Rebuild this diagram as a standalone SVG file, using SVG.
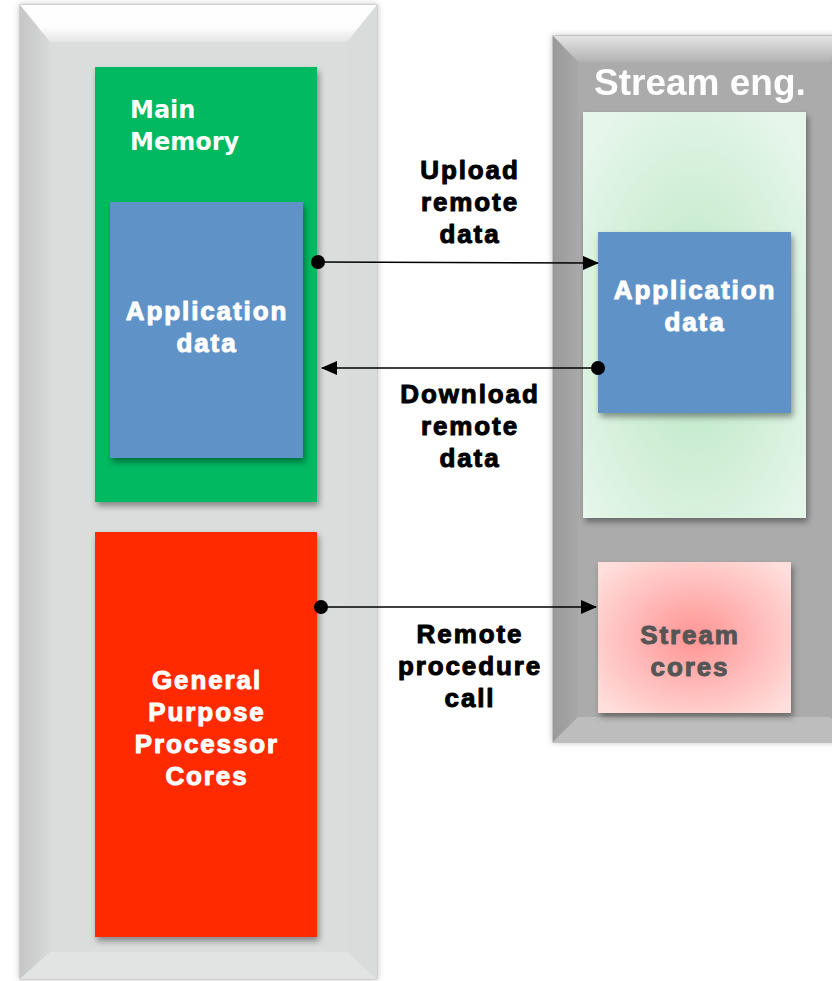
<svg xmlns="http://www.w3.org/2000/svg" width="832" height="981" viewBox="0 0 832 981">
  <style>
    .heavy { font-family: "Liberation Sans", Arial, sans-serif; font-weight: bold; font-size: 26px; letter-spacing: 1.9px; text-anchor: middle; stroke-width: 1px; stroke-linejoin: round; }
    .white { fill: #ffffff; stroke: #ffffff; }
    .black { fill: #000000; stroke: #000000; }
    .grey  { fill: #555555; stroke: #555555; }
    .verd  { font-family: "DejaVu Sans", Verdana, sans-serif; font-weight: bold; font-size: 24px; fill: #ffffff; }
    .title { font-family: "Liberation Sans", Arial, sans-serif; font-weight: bold; font-size: 37px; fill: #ffffff; }
    .wire  { stroke: #000000; stroke-width: 1.6; fill: none; }
    .dot   { fill: #000000; }
  </style>
  <defs>
    <filter id="shadow" x="-10%" y="-10%" width="125%" height="125%">
      <feDropShadow dx="2" dy="4" stdDeviation="3" flood-color="#000000" flood-opacity="0.4"/>
    </filter>
    <filter id="glow" x="-5%" y="-5%" width="110%" height="110%">
      <feDropShadow dx="0" dy="0" stdDeviation="3" flood-color="#000000" flood-opacity="0.25"/>
    </filter>
    <linearGradient id="topL" x1="0" y1="0" x2="0" y2="1">
      <stop offset="0" stop-color="#ffffff"/>
      <stop offset="0.6" stop-color="#fdfdfd"/>
      <stop offset="1" stop-color="#e6e6e6"/>
    </linearGradient>
    <linearGradient id="leftL" x1="0" y1="0" x2="1" y2="0">
      <stop offset="0" stop-color="#c6c6c6"/>
      <stop offset="1" stop-color="#d8d9d9"/>
    </linearGradient>
    <linearGradient id="topR" x1="0" y1="0" x2="0" y2="1">
      <stop offset="0" stop-color="#e4e4e4"/>
      <stop offset="1" stop-color="#b2b2b2"/>
    </linearGradient>
    <linearGradient id="leftR" x1="0" y1="0" x2="1" y2="0">
      <stop offset="0" stop-color="#9a9a9a"/>
      <stop offset="1" stop-color="#a8a8a8"/>
    </linearGradient>
    <radialGradient id="greenGlow" cx="0.5" cy="0.55" r="0.65">
      <stop offset="0" stop-color="#b8e6c3"/>
      <stop offset="1" stop-color="#e6f6ea"/>
    </radialGradient>
    <radialGradient id="redGlow" cx="0.5" cy="0.5" r="0.65">
      <stop offset="0" stop-color="#ff9494"/>
      <stop offset="1" stop-color="#ffdfdc"/>
    </radialGradient>
    <marker id="head" markerWidth="16" markerHeight="14" refX="15" refY="7" orient="auto" markerUnits="userSpaceOnUse">
      <path d="M0,0 L16,7 L0,14 Z" fill="#000000"/>
    </marker>
  </defs>

  <rect width="832" height="981" fill="#ffffff"/>

  <!-- Host panel (bevelled) -->
  <g id="host-panel" filter="url(#glow)">
    <rect x="20" y="5" width="357" height="974" fill="#dcdddd" stroke="#b4b4b4" stroke-width="1"/>
    <polygon points="20,5 377,5 347,42 50,42" fill="url(#topL)"/>
    <polygon points="20,5 50,42 50,952 20,979" fill="url(#leftL)"/>
    <polygon points="377,5 347,42 347,952 377,979" fill="#dadbdb"/>
    <polygon points="20,979 50,952 347,952 377,979" fill="#e2e3e3"/>
    <rect x="50" y="42" width="297" height="910" fill="#dbdcdc"/>
  </g>

  <!-- Stream engine panel (bevelled) -->
  <g id="stream-panel" filter="url(#glow)">
    <rect x="553" y="36" width="300" height="706" fill="#aaaaaa" stroke="#9a9a9a" stroke-width="1"/>
    <polygon points="553,36 853,36 830,62 578,62" fill="url(#topR)"/>
    <polygon points="553,36 578,62 578,717 553,742" fill="url(#leftR)"/>
    <polygon points="553,742 578,717 830,717 853,742" fill="#bdbdbd"/>
    <rect x="578" y="62" width="260" height="655" fill="#ababab"/>
    <text class="title" x="594" y="95">Stream eng.</text>
  </g>

  <!-- Main memory -->
  <g id="main-memory">
    <rect x="95" y="67" width="222" height="435" fill="#00b960" filter="url(#shadow)"/>
    <text class="verd" x="130" y="118">Main</text>
    <text class="verd" x="130" y="150">Memory</text>
  </g>

  <g id="host-app-data">
    <rect x="110" y="202" width="193" height="256" fill="#5f93c8" filter="url(#shadow)"/>
    <text class="heavy white" x="207" y="320">Application</text>
    <text class="heavy white" x="207" y="352">data</text>
  </g>

  <!-- General purpose cores -->
  <g id="gp-cores">
    <rect x="95" y="532" width="222" height="405" fill="#ff2a00" filter="url(#shadow)"/>
    <text class="heavy white" x="207" y="689">General</text>
    <text class="heavy white" x="207" y="721">Purpose</text>
    <text class="heavy white" x="207" y="753">Processor</text>
    <text class="heavy white" x="207" y="785">Cores</text>
  </g>

  <!-- Stream engine memory -->
  <g id="stream-memory">
    <rect x="583" y="112" width="223" height="406" fill="url(#greenGlow)" filter="url(#shadow)"/>
  </g>

  <g id="stream-app-data">
    <rect x="598" y="232" width="193" height="181" fill="#5f93c8" filter="url(#shadow)"/>
    <text class="heavy white" x="695" y="299">Application</text>
    <text class="heavy white" x="695" y="331">data</text>
  </g>

  <g id="stream-cores">
    <rect x="598" y="562" width="193" height="151" fill="url(#redGlow)" filter="url(#shadow)"/>
    <text class="heavy grey" x="690" y="644">Stream</text>
    <text class="heavy grey" x="690" y="676">cores</text>
  </g>

  <!-- Connectors -->
  <g id="connectors">
    <line class="wire" x1="318" y1="262" x2="598" y2="263" marker-end="url(#head)"/>
    <circle class="dot" cx="318" cy="262" r="7"/>
    <line class="wire" x1="598" y1="368" x2="322" y2="368" marker-end="url(#head)"/>
    <circle class="dot" cx="598" cy="368" r="7"/>
    <line class="wire" x1="321" y1="607" x2="596" y2="607" marker-end="url(#head)"/>
    <circle class="dot" cx="321" cy="607" r="7"/>
  </g>

  <!-- Connector labels -->
  <g id="labels">
    <text class="heavy black" x="470" y="179">Upload</text>
    <text class="heavy black" x="470" y="211">remote</text>
    <text class="heavy black" x="470" y="243">data</text>
    <text class="heavy black" x="470" y="403">Download</text>
    <text class="heavy black" x="470" y="435">remote</text>
    <text class="heavy black" x="470" y="467">data</text>
    <text class="heavy black" x="470" y="643">Remote</text>
    <text class="heavy black" x="470" y="675">procedure</text>
    <text class="heavy black" x="470" y="707">call</text>
  </g>
</svg>
